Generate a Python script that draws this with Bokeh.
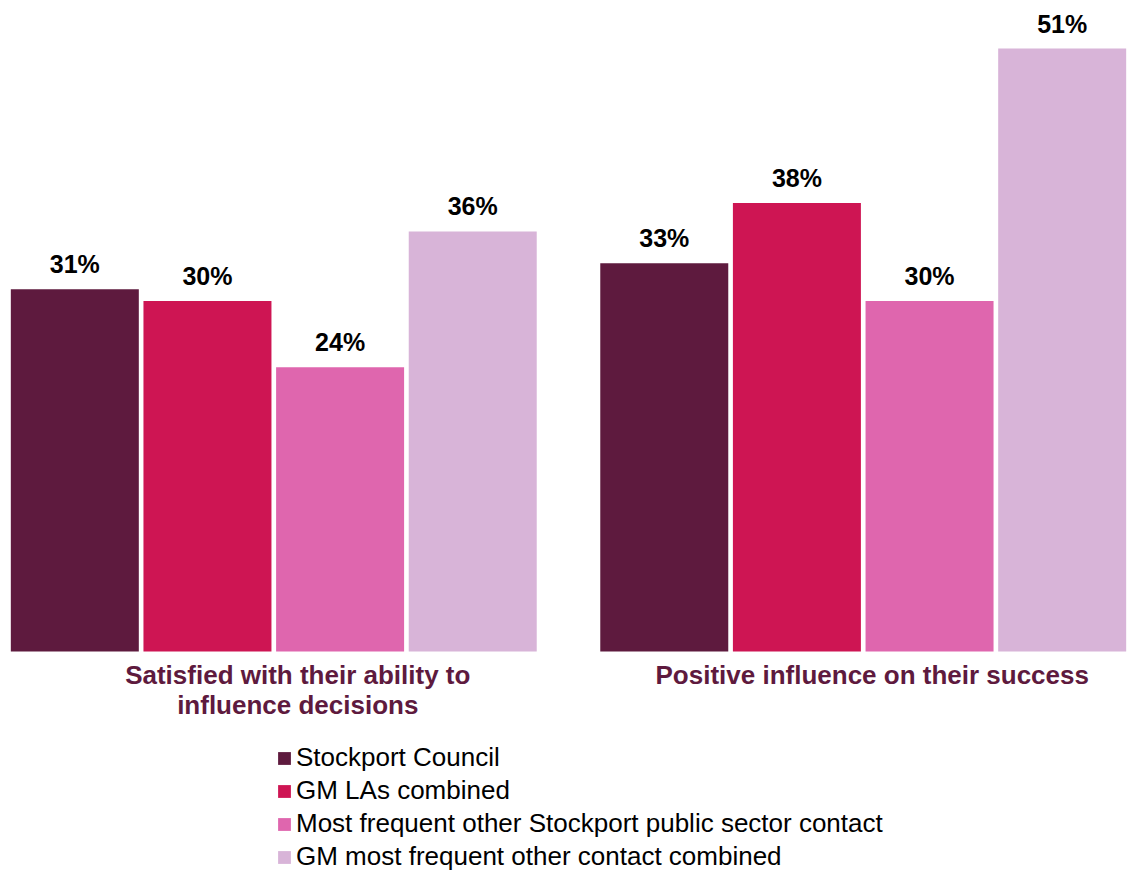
from bokeh.plotting import figure
from bokeh.models import FactorRange, ColumnDataSource, Range1d, Legend, LegendItem
from bokeh.core.properties import value
from bokeh.embed import file_html
from bokeh.resources import INLINE

# ---- data ----
groups = ["Satisfied with their ability to\ninfluence decisions",
          "Positive influence on their success"]
series = ["Stockport Council",
          "GM LAs combined",
          "Most frequent other Stockport public sector contact",
          "GM most frequent other contact combined"]
stockport_council = [30.7, 32.9]
gm_las_combined = [29.7, 38.0]
other_stockport_contact = [24.1, 29.7]
gm_other_contact = [35.6, 51.1]
labels_stockport_council = ["31%", "33%"]
labels_gm_las_combined = ["30%", "38%"]
labels_other_stockport_contact = ["24%", "30%"]
labels_gm_other_contact = ["36%", "51%"]

# ---- style ----
colors = ["#5E1A3E", "#CE1553", "#DF66AE", "#D8B4D8"]
FONT = "Liberation Sans"
group_label_x_offsets = [24, 9]

all_values = [stockport_council, gm_las_combined, other_stockport_contact, gm_other_contact]
all_labels = [labels_stockport_council, labels_gm_las_combined,
              labels_other_stockport_contact, labels_gm_other_contact]

x_factors = [(g, s) for g in groups for s in series]

p = figure(x_range=FactorRange(*x_factors, range_padding=0, group_padding=0.444, factor_padding=0),
           y_range=Range1d(-18.81, 55.17),
           width=1128, height=873,
           output_backend="svg", toolbar_location=None,
           x_axis_location=None, y_axis_location=None,
           min_border=0, min_border_left=8, min_border_right=0,
           min_border_top=0, min_border_bottom=0)
p.grid.visible = False
p.outline_line_color = None

items = []
for name, vals, labs, col in zip(series, all_values, all_labels, colors):
    src = ColumnDataSource(dict(x=[(g, name) for g in groups], top=vals, lab=labs))
    r = p.vbar(x="x", top="top", bottom=0, width=0.965, source=src,
               fill_color=col, line_color=None)
    p.text(x="x", y="top", text="lab", source=src,
           text_align="center", text_baseline="alphabetic", y_offset=-25,
           text_font=value(FONT), text_font_style="bold",
           text_font_size="25px", text_color="#000000")
    items.append(LegendItem(label=name, renderers=[r]))

# category labels under the groups
for g, off in zip(groups, group_label_x_offsets):
    p.text(x=[g], y=[0], text=[g], x_offset=off,
           text_align="center", text_baseline="top", y_offset=8,
           text_font=value(FONT), text_font_style="bold",
           text_font_size="26px", text_color="#5E1A3E", text_line_height=1.02)

legend = Legend(items=items, location=(268, 1), orientation="vertical",
                border_line_color=None, background_fill_alpha=0,
                padding=0, margin=0, spacing=2,
                glyph_width=16, glyph_height=16, label_height=30,
                label_standoff=4,
                label_text_font=FONT, label_text_font_size="26px",
                label_text_color="#000000")
p.add_layout(legend)

open("out.html", "w").write(file_html(p, INLINE))
